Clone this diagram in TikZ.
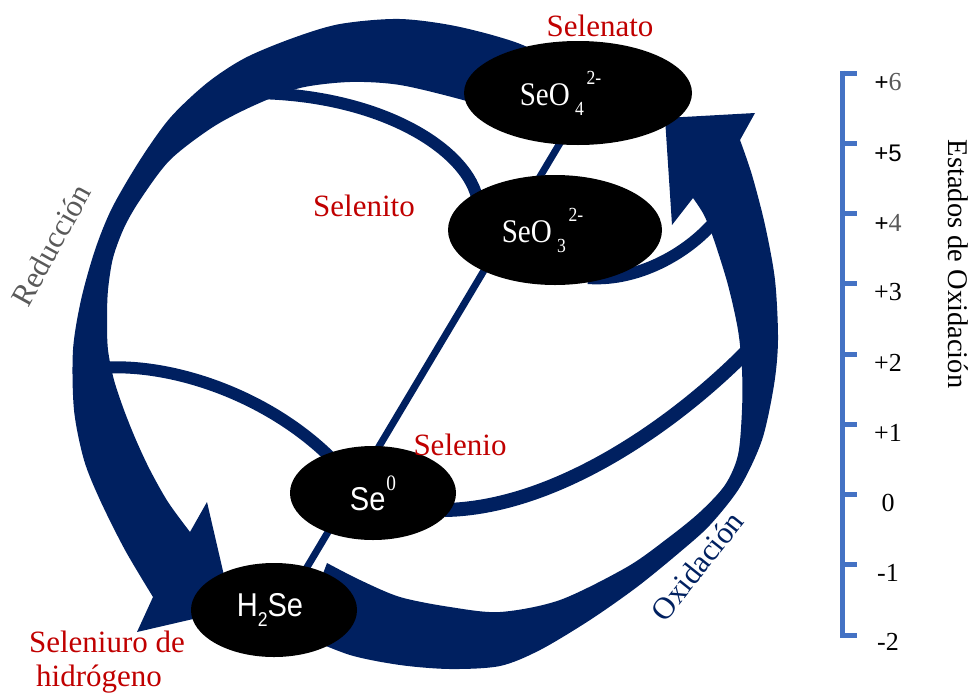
\documentclass[tikz,border=0pt]{standalone}
\usepackage{fontspec}
\usepackage{graphicx}
\setmainfont{Liberation Serif}
\newfontfamily\arialfont{Liberation Sans}
\usetikzlibrary{shapes.geometric}
\definecolor{navy}{HTML}{002060}
\definecolor{redlab}{HTML}{C00000}
\definecolor{graytxt}{HTML}{595959}
\definecolor{axisblue}{HTML}{4472C4}
\newcommand{\narrow}[1]{\scalebox{0.88}[1]{#1}}
\begin{document}
\begin{tikzpicture}[x=1pt,y=-1pt,
  species/.style={ellipse, fill=black, text=white, inner sep=0pt},
  flow/.style={fill=navy},
  thinflow/.style={draw=navy, line width=12pt},
  redlabel/.style={text=redlab, font=\fontsize{31}{36}\selectfont, anchor=base, inner sep=0pt},
  axlab/.style={font=\fontsize{26}{30}\selectfont, anchor=base, inner sep=0pt},
  axsans/.style={font=\arialfont\fontsize{24}{28}\selectfont},
  axline/.style={draw=axisblue, line width=5pt}]
\useasboundingbox (0,0) rectangle (977,694);

% named end points of the flows
\coordinate (aA) at (250,93);  \coordinate (aB) at (478,202);
\coordinate (bA) at (100,368); \coordinate (bB) at (335,462);
\coordinate (cA) at (445,510); \coordinate (cB) at (750,348);
\coordinate (dA) at (588,278); \coordinate (dB) at (722,212);
\coordinate (lnA) at (300,579); \coordinate (lnB) at (566,133);

% Reduccion arrow
\fill[flow] plot[smooth] coordinates {(565,75) (525,46) (460,27) (400,19) (340,24) (293,38) (245,58) (207,83) (170,118) (140,160) (112,208) (95,250) (81,300) (73,350) (74,410) (84,460) (100,500) (125,550) (153,597)}
  -- (137,632) -- (232,610) -- (207,502) -- (190,532)
  -- plot[smooth] coordinates {(190,532) (168,502) (150,470) (136,440) (124,410) (114,380) (108,350) (107,320) (108,290) (113,258) (124,228) (140,200) (170,160) (213,127) (255,105) (300,88) (350,82) (400,85) (463,100) (510,115)}
  -- cycle;

% Oxidacion arrow
\fill[flow] (327,563) -- plot[smooth] coordinates {(327,563) (360,580) (400,597) (450,607) (500,612) (560,600) (627,567) (668,538) (700,512) (725,485) (738,455) (742,410) (742,370) (738,330) (728,285) (714,240) (704,215) (693,198)}
  -- (672,225) -- (665,118) -- (755,113) -- (740,140)
  -- plot[smooth] coordinates {(740,140) (752,175) (765,225) (775,280) (778,340) (774,385) (762,440) (740,487) (710,525) (680,552) (637,587) (590,620) (540,650) (500,666) (450,669) (400,665) (350,655) (300,635)}
  -- cycle;

% thin branches
\draw[thinflow] (aA) .. controls (380,93) and (470,150) .. (aB);
\draw[thinflow] (bA) .. controls (170,362) and (270,395) .. (bB);
\draw[thinflow, line width=14pt] (cA) .. controls (555,508) and (675,425) .. (cB);
\draw[thinflow] (dA) .. controls (640,282) and (695,250) .. (dB);
\draw[navy, line width=7pt] (lnA) -- (lnB);

% species
\node[species, minimum width=228pt, minimum height=104pt] (SeO4) at (578,93)
  {\narrow{\fontsize{33}{36}\selectfont SeO\hspace{6pt}\raisebox{-10pt}{\fontsize{20}{22}\selectfont 4}\hspace{3pt}\raisebox{21pt}{\fontsize{20}{22}\selectfont 2-}}\hspace*{35pt}};
\node[species, minimum width=214pt, minimum height=110pt] (SeO3) at (555,230)
  {\narrow{\fontsize{33}{36}\selectfont SeO\hspace{6pt}\raisebox{-10pt}{\fontsize{20}{22}\selectfont 3}\hspace{3pt}\raisebox{21pt}{\fontsize{20}{22}\selectfont 2-}}\hspace*{25pt}};
\node[species, minimum width=166pt, minimum height=94pt] (Se0) at (373,493)
  {\narrow{\fontsize{33}{36}\arialfont Se\hspace{1pt}\raisebox{20pt}{\fontsize{22}{24}\rmfamily 0}}};
\node[species, minimum width=166pt, minimum height=94pt] (H2Se) at (274,610)
  {\narrow{\fontsize{33}{36}\arialfont H\raisebox{-10pt}{\fontsize{20}{22}\selectfont 2}Se}\hspace*{8pt}};

% names of species
\node[redlabel] (lblSelenato) at (600,36) {Selenato};
\node[redlabel] (lblSelenito) at (364,216) {Selenito};
\node[redlabel] (lblSelenio) at (460,455) {Selenio};
\node[redlabel] (lblSeleniuro) at (107,652) {Seleniuro de};
\node[redlabel] (lblHidrogeno) at (99,686) {hidrógeno};

% process labels
\node[text=graytxt, font=\fontsize{31}{36}\selectfont, rotate=61, inner sep=0pt] (lblRed) at (51,245) {Reducción};
\node[text=navy, font=\fontsize{31}{36}\selectfont, rotate=51.5, inner sep=0pt] (lblOx) at (697,566) {Oxidación};

% oxidation state axis
\draw[axline] (842.5,70.5) -- (842.5,637.5);
\foreach \i in {0,...,8} \draw[axline] (840,73+70.25*\i) -- (857,73+70.25*\i);
\node[axlab] (ax6) at (888,90) {{\arialfont\fontsize{24}{28}\selectfont +}\textcolor{graytxt}{6}};
\node[axlab, axsans] (ax5) at (888,161) {+5};
\node[axlab] (ax4) at (888,231) {{\arialfont\fontsize{24}{28}\selectfont +}\textcolor{graytxt}{4}};
\node[axlab] (ax3) at (888,300.75) {+3};
\node[axlab] (ax2) at (888,371) {+2};
\node[axlab] (ax1) at (888,441.25) {+1};
\node[axlab] (ax0) at (888,511.5) {0};
\node[axlab] (axm1) at (888,581.75) {-1};
\node[axlab] (axm2) at (888,650) {-2};
\node[font=\fontsize{28.5}{34}\selectfont, rotate=-90, inner sep=0pt] (lblEstados) at (958,264) {Estados de Oxidación};
\end{tikzpicture}
\end{document}
